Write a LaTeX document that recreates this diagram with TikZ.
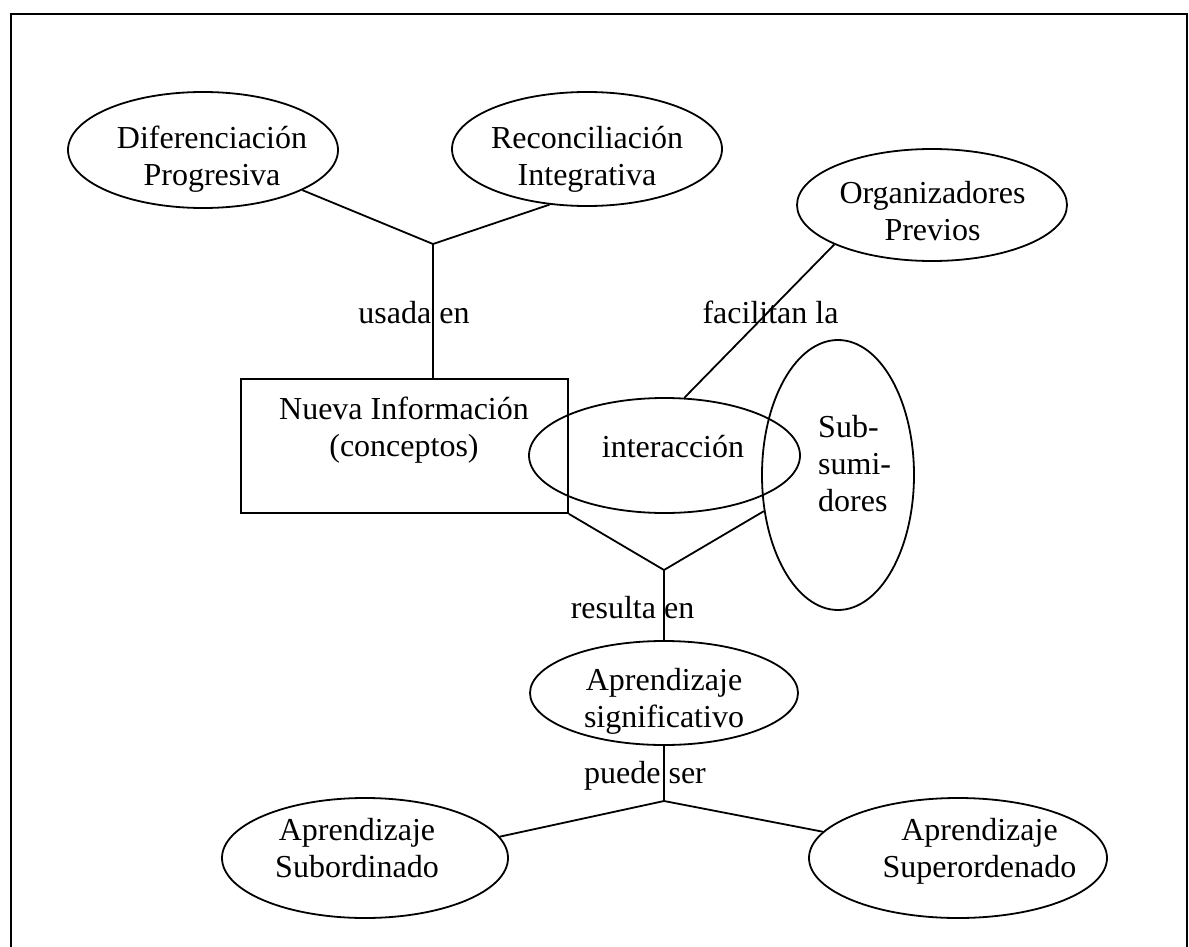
\documentclass[tikz,border=0pt]{standalone}
\usepackage{fontspec}
\setmainfont{Liberation Serif}
\usetikzlibrary{shapes.geometric}
\newcommand\fsz{\fontsize{32}{37}\selectfont}
\newcommand\mylines[2][c]{\begin{tabular}[t]{@{}#1@{}}#2\end{tabular}}
\begin{document}
\begin{tikzpicture}[x=1pt,y=-1pt,
  ell/.style={draw, ellipse, inner sep=0pt, line width=1.8pt},
  box/.style={draw, rectangle, inner sep=0pt, line width=1.8pt},
  txt/.style={inner sep=0pt, anchor=base, font=\fsz},
  conn/.style={line width=1.8pt},
  frame/.style={line width=2.2pt}]
\useasboundingbox (0,0) rectangle (1189,947);
% frame
\coordinate (fbl) at (11,947);
\coordinate (ftl) at (11,14);
\coordinate (ftr) at (1187,14);
\coordinate (fbr) at (1187,947);
\draw[frame] (fbl) -- (ftl) -- (ftr) -- (fbr);
% shapes
\node[ell, minimum width=270pt, minimum height=116pt] (dif) at (203,150) {};
\node[ell, minimum width=270pt, minimum height=114pt] (rec) at (587,149) {};
\node[ell, minimum width=270pt, minimum height=112pt] (org) at (932,205) {};
\node[box, minimum width=327pt, minimum height=134pt] (nueva) at (404.5,446) {};
\node[ell, minimum width=271pt, minimum height=115pt] (inter) at (664.5,455.5) {};
\node[ell, minimum width=152pt, minimum height=270pt] (subs) at (838,475) {};
\node[ell, minimum width=268pt, minimum height=104pt] (sig) at (664,693) {};
\node[ell, minimum width=286pt, minimum height=120pt] (subord) at (365,858) {};
\node[ell, minimum width=298pt, minimum height=120pt] (super) at (958,858) {};
% texts
\node[txt] (tdif) at (212,149) {\mylines{Diferenciación\\Progresiva}};
\node[txt] (trec) at (587,149) {\mylines{Reconciliación\\Integrativa}};
\node[txt] (torg) at (932.5,204) {\mylines{Organizadores\\Previos}};
\node[txt] (tnueva) at (404,419) {\mylines{Nueva Información\\(conceptos)}};
\node[txt] (tinter) at (673,457) {interacción};
\node[txt, anchor=base west] (tsubs) at (818,437) {\mylines[l]{Sub-\\sumi-\\dores}};
\node[txt] (tsig) at (664,690) {\mylines{Aprendizaje\\significativo}};
\node[txt] (tsubord) at (357,840) {\mylines{Aprendizaje\\Subordinado}};
\node[txt] (tsuper) at (979.5,840) {\mylines{Aprendizaje\\Superordenado}};
% link labels
\node[txt] (lusada) at (414,323) {usada en};
\node[txt] (lfac) at (770.5,323) {facilitan la};
\node[txt] (lres) at (632.5,618) {resulta en};
\node[txt] (lpue) at (645,783) {puede ser};
% junctions
\coordinate (j1) at (433,244);
\coordinate (j2) at (664,570);
\coordinate (j3) at (664,801);
% connectors
\draw[conn] (dif.338.2) -- (j1) -- (rec.236.3);
\draw[conn] (j1) -- (j1 |- nueva.north);
\draw[conn] (org.202.8) -- (inter.71.3);
\draw[conn] (nueva.south east) -- (j2) -- (subs.206);
\draw[conn] (j2) -- (sig.north);
\draw[conn] (sig.south) -- (j3);
\draw[conn] (subord.9.1) -- (j3) -- (super.169.1);
\end{tikzpicture}
\end{document}
